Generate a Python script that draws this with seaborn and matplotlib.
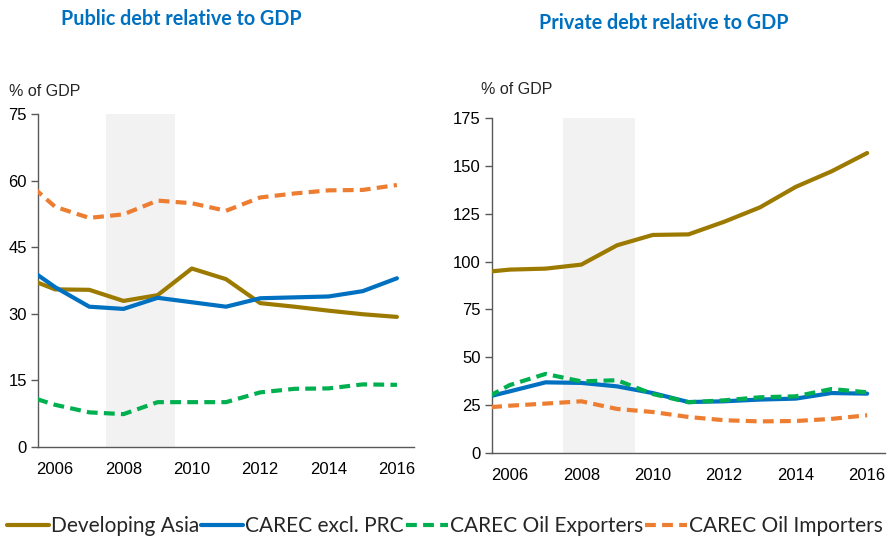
import numpy as np
import pandas as pd
import matplotlib
matplotlib.use("Agg")
import matplotlib.pyplot as plt
import seaborn as sns
from matplotlib.lines import Line2D

# Years (2005 included so the series run into the left edge of the axis)
years = list(range(2005, 2017))

series_names = ["Developing Asia", "CAREC excl. PRC",
                "CAREC Oil Exporters", "CAREC Oil Importers"]

# Public debt, % of GDP
public_dev_asia = [38.5, 35.5, 35.4, 32.9, 34.2, 40.2, 37.8, 32.4, 31.6, 30.7, 29.9, 29.3]
public_carec_ex_prc = [41.4, 36.0, 31.6, 31.1, 33.6, 32.6, 31.6, 33.5, 33.7, 33.9, 35.1, 38.0]
public_oil_exp = [11.9, 9.5, 7.8, 7.4, 10.1, 10.1, 10.1, 12.3, 13.1, 13.2, 14.1, 14.0]
public_oil_imp = [60.9, 54.1, 51.6, 52.4, 55.5, 54.9, 53.2, 56.2, 57.1, 57.8, 57.9, 59.0]

# Private debt, % of GDP
private_dev_asia = [94.0, 95.8, 96.3, 98.4, 108.5, 113.9, 114.2, 120.8, 128.3, 139.0, 147.1, 156.7]
private_carec_ex_prc = [27.6, 32.2, 36.9, 36.6, 34.8, 31.3, 26.6, 27.0, 27.9, 28.4, 31.3, 31.0]
private_oil_exp = [25.5, 35.5, 41.3, 37.4, 38.0, 30.8, 26.5, 27.5, 29.1, 29.6, 33.4, 31.7]
private_oil_imp = [23.3, 24.7, 25.8, 27.0, 23.0, 21.4, 18.8, 17.1, 16.5, 16.7, 17.8, 19.7]

public_ticks = [0, 15, 30, 45, 60, 75]
private_ticks = [0, 25, 50, 75, 100, 125, 150, 175]
year_ticks = [2006, 2008, 2010, 2012, 2014, 2016]
crisis_span = (2007.5, 2009.5)

colors = {"Developing Asia": "#9C7A00", "CAREC excl. PRC": "#0070C0",
          "CAREC Oil Exporters": "#00B050", "CAREC Oil Importers": "#ED7D31"}
dash = (2.6, 1.5)
dashes = {"Developing Asia": "", "CAREC excl. PRC": "",
          "CAREC Oil Exporters": dash, "CAREC Oil Importers": dash}


def long_frame(values):
    rows = []
    for name, vals in zip(series_names, values):
        for y, v in zip(years, vals):
            rows.append({"year": y, "value": v, "series": name})
    return pd.DataFrame(rows)


public_df = long_frame([public_dev_asia, public_carec_ex_prc, public_oil_exp, public_oil_imp])
private_df = long_frame([private_dev_asia, private_carec_ex_prc, private_oil_exp, private_oil_imp])

sns.set_theme(style="white")
plt.rcParams["font.family"] = ["Liberation Sans", "DejaVu Sans"]

fig = plt.figure(figsize=(8.9, 5.39), dpi=100)
ax_pub = fig.add_axes([0.0427, 0.1707, 0.4225, 0.6178])
ax_prv = fig.add_axes([0.5528, 0.1596, 0.4416, 0.6215])

spine_col = "#595959"
for ax, df, ticks in [(ax_pub, public_df, public_ticks), (ax_prv, private_df, private_ticks)]:
    ax.axvspan(*crisis_span, color="#F2F2F2", lw=0, zorder=0)
    sns.lineplot(data=df, x="year", y="value", hue="series", style="series",
                 hue_order=series_names, style_order=series_names,
                 palette=colors, dashes=dashes, linewidth=3.0,
                 legend=False, ax=ax, zorder=3)
    ax.set_xlim(2005.5, 2016.5)
    ax.set_ylim(ticks[0], ticks[-1])
    ax.set_yticks(ticks)
    ax.set_xticks(year_ticks)
    ax.set_xlabel("")
    ax.set_ylabel("")
    for side in ["top", "right"]:
        ax.spines[side].set_visible(False)
    for side in ["left", "bottom"]:
        ax.spines[side].set_color(spine_col)
        ax.spines[side].set_linewidth(1.0)
    ax.tick_params(axis="y", which="major", left=True, length=5, width=1,
                   color=spine_col, labelsize=12, pad=3, labelcolor="black")
    ax.tick_params(axis="x", which="major", bottom=False, labelsize=12, pad=5,
                   labelcolor="black")
    ax.set_facecolor("white")
    ax.grid(False)

title_kw = dict(color="#0070C0", fontsize=14.2, fontweight="bold",
                family=["Lato", "DejaVu Sans"], ha="center", va="center")
fig.text(181.7 / 890, 1 - 19 / 539, "Public debt relative to GDP", **title_kw)
fig.text(664 / 890, 1 - 23 / 539, "Private debt relative to GDP", **title_kw)

fig.text(9 / 890, 1 - 92 / 539, "% of GDP", fontsize=11.5, ha="left", va="center")
fig.text(481 / 890, 1 - 89 / 539, "% of GDP", fontsize=11.5, ha="left", va="center")

handles = [Line2D([0], [0], color=colors[n], lw=3.0,
                  dashes=dashes[n] if dashes[n] else (None, None))
           for n in series_names]
fig.legend(handles, series_names, loc="center", bbox_to_anchor=(0.5, 1 - 526 / 539),
           ncol=4, frameon=False, handlelength=2.0, handletextpad=0.1,
           columnspacing=0.1, prop={"family": ["Lato", "DejaVu Sans"], "size": 15})

fig.savefig("out.png", dpi=100, facecolor="white")
